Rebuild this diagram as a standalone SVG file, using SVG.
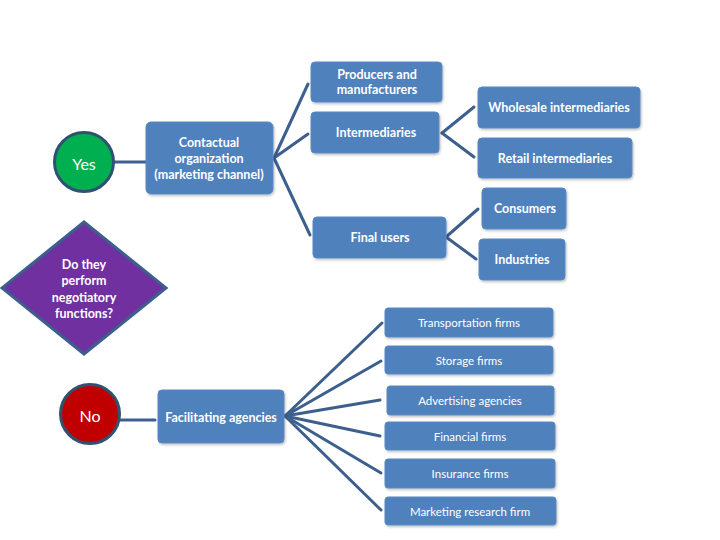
<svg xmlns="http://www.w3.org/2000/svg" width="720" height="540" viewBox="0 0 720 540">
<defs>
<filter id="sh" x="-10%" y="-10%" width="130%" height="140%">
<feDropShadow dx="1" dy="1.5" stdDeviation="1" flood-color="#000" flood-opacity="0.25"/>
</filter>
</defs>
<style>
.box{fill:#4f81bd;stroke:#5a8ac4;stroke-width:1;filter:url(#sh)}
.t{font-family:Lato,"Open Sans","Liberation Sans",sans-serif;fill:#fff;text-anchor:middle;dominant-baseline:central}
.b{font-weight:bold;font-size:12.5px}
.r{font-size:11.5px}
.c{stroke:#3c5f8e;stroke-width:3;fill:none;stroke-linecap:round}
</style>
<rect width="720" height="540" fill="#fff"/>
<g id="connectors">
<line class="c" x1="114" y1="162" x2="146" y2="162"/>
<line class="c" x1="274" y1="158" x2="308" y2="84"/>
<line class="c" x1="274" y1="158" x2="308" y2="134"/>
<line class="c" x1="274" y1="158" x2="310" y2="235"/>
<line class="c" x1="442" y1="133" x2="474" y2="107"/>
<line class="c" x1="442" y1="133" x2="474" y2="157"/>
<line class="c" x1="446" y1="237" x2="478" y2="209"/>
<line class="c" x1="446" y1="237" x2="476" y2="259"/>
<line class="c" x1="120" y1="420" x2="155" y2="420"/>
<line class="c" x1="285" y1="416" x2="382" y2="323"/>
<line class="c" x1="285" y1="416" x2="381" y2="361"/>
<line class="c" x1="285" y1="416" x2="380" y2="400"/>
<line class="c" x1="285" y1="416" x2="380" y2="436"/>
<line class="c" x1="285" y1="416" x2="381" y2="473"/>
<line class="c" x1="285" y1="416" x2="381" y2="510"/>
</g>
<g id="yes">
<circle cx="84" cy="162" r="29.5" fill="#00b050" stroke="#2f5272" stroke-width="3"/>
<text class="t" x="84" y="163" font-size="16">Yes</text>
</g>
<g id="decision">
<polygon points="84,222 166,288 84,354 2,288" fill="#7030a0" stroke="#3c5f8e" stroke-width="3"/>
<text class="t b" x="84" y="264">Do they</text>
<text class="t b" x="84" y="280">perform</text>
<text class="t b" x="84" y="297">negotiatory</text>
<text class="t b" x="84" y="313">functions?</text>
</g>
<g id="no">
<circle cx="90" cy="414" r="29.5" fill="#c00000" stroke="#2f5272" stroke-width="3"/>
<text class="t" x="90" y="415" font-size="16">No</text>
</g>
<g id="contactual">
<rect class="box" x="146" y="122" width="127" height="72" rx="5"/>
<text class="t b" x="209" y="142">Contactual</text>
<text class="t b" x="209" y="158">organization</text>
<text class="t b" x="209" y="174">(marketing channel)</text>
</g>
<g id="producers">
<rect class="box" x="311" y="62" width="131" height="40" rx="4"/>
<text class="t b" x="377" y="74">Producers and</text>
<text class="t b" x="377" y="89">manufacturers</text>
</g>
<g id="intermediaries">
<rect class="box" x="311" y="112" width="128" height="41" rx="4"/>
<text class="t b" x="376" y="132">Intermediaries</text>
</g>
<g id="wholesale">
<rect class="box" x="478" y="87" width="162" height="41" rx="4"/>
<text class="t b" x="559" y="107">Wholesale intermediaries</text>
</g>
<g id="retail">
<rect class="box" x="478" y="138" width="154" height="40" rx="4"/>
<text class="t b" x="555" y="158">Retail intermediaries</text>
</g>
<g id="final-users">
<rect class="box" x="313" y="217" width="133" height="41" rx="4"/>
<text class="t b" x="380" y="237">Final users</text>
</g>
<g id="consumers">
<rect class="box" x="482" y="188" width="84" height="41" rx="4"/>
<text class="t b" x="525" y="208">Consumers</text>
</g>
<g id="industries">
<rect class="box" x="479" y="239" width="86" height="41" rx="4"/>
<text class="t b" x="522" y="259">Industries</text>
</g>
<g id="facilitating">
<rect class="box" x="158" y="390" width="126" height="53" rx="4"/>
<text class="t b" x="221" y="417">Facilitating agencies</text>
</g>
<g id="transportation">
<rect class="box" x="385" y="308" width="168" height="29" rx="3"/>
<text class="t r" x="469" y="322">Transportation firms</text>
</g>
<g id="storage">
<rect class="box" x="385" y="346" width="168" height="28" rx="3"/>
<text class="t r" x="469" y="360">Storage firms</text>
</g>
<g id="advertising">
<rect class="box" x="387" y="386" width="167" height="29" rx="3"/>
<text class="t r" x="470" y="400">Advertising agencies</text>
</g>
<g id="financial">
<rect class="box" x="385" y="422" width="170" height="28" rx="3"/>
<text class="t r" x="470" y="436">Financial firms</text>
</g>
<g id="insurance">
<rect class="box" x="385" y="459" width="170" height="29" rx="3"/>
<text class="t r" x="470" y="473">Insurance firms</text>
</g>
<g id="marketing-research">
<rect class="box" x="385" y="497" width="171" height="28" rx="3"/>
<text class="t r" x="470" y="511">Marketing research firm</text>
</g>
</svg>
